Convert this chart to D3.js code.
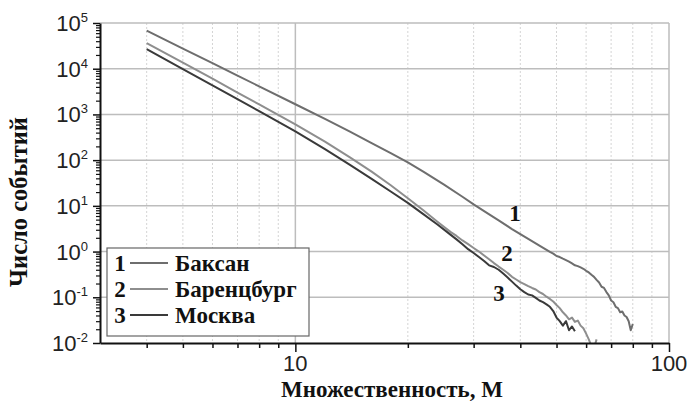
<!DOCTYPE html>
<html lang="ru">
<head>
<meta charset="UTF-8">
<title>Число событий</title>
<script src="https://d3js.org/d3.v7.min.js"></script>
<style>
  body { margin: 0; background: #fff; }
  svg { display: block; }
  .tick-label { font-family: "Liberation Sans", Arial, sans-serif; fill: #222; }
  .serif-b { font-family: "Liberation Serif", "Times New Roman", serif; font-weight: bold; fill: #111; }
</style>
</head>
<body>
<svg id="chart" width="688" height="403"></svg>
<script>
// multiplicity M and number of events
const baksanM = [4, 5, 6, 7, 8, 10, 12, 14, 16, 18, 20, 22, 25, 28, 30, 32, 35, 38, 40, 42, 45, 48,
  49, 50, 51, 52, 53, 54, 55, 56, 57, 58, 59, 60, 61, 62, 63, 64, 65, 66, 67, 68, 69, 70,
  71, 72, 73, 74, 75, 76, 77, 78, 79, 80];
const baksanN = [68000, 27600, 13200, 7080, 4120, 1670, 798, 421, 235, 142, 89, 56, 29, 15.8, 10.8, 7.7, 4.8, 3.1, 2.4, 1.9, 1.35, 0.98,
  0.9, 0.8, 0.76, 0.7, 0.65, 0.6, 0.55, 0.5, 0.48, 0.45, 0.42, 0.38, 0.35, 0.31, 0.28, 0.24, 0.21, 0.17, 0.16, 0.13, 0.11, 0.085,
  0.078, 0.062, 0.058, 0.047, 0.049, 0.04, 0.037, 0.03, 0.019, 0.026];

const barentsM = [4, 5, 6, 7, 8, 10, 12, 14, 16, 18, 20, 22, 24, 26, 27, 28, 29, 30, 31, 32, 33, 34, 35,
  36, 37, 38, 39, 40, 41, 42, 43, 44, 45, 46, 47, 48, 49, 50, 51, 52, 53, 54, 55, 56, 57, 58,
  59, 60, 61, 62, 63, 64];
const barentsN = [36300, 13600, 6100, 3010, 1660, 605, 253, 115, 56, 28.3, 14.7, 8.0, 4.5, 2.7, 2.2, 1.75, 1.45, 1.2, 1.0, 0.82, 0.68, 0.56, 0.47,
  0.4, 0.34, 0.28, 0.245, 0.215, 0.195, 0.175, 0.16, 0.148, 0.13, 0.118, 0.103, 0.092, 0.081, 0.068, 0.058, 0.047, 0.04, 0.033, 0.036, 0.029, 0.031, 0.024,
  0.021, 0.016, 0.012, 0.0085, 0.0078, 0.012];

const moscowM = [4, 5, 6, 7, 8, 10, 12, 14, 16, 18, 20, 22, 24, 26, 27, 28, 29, 30, 31, 32, 33, 34, 35,
  36, 37, 38, 39, 40, 41, 42, 43, 44, 45, 46, 47, 48, 49, 50, 51, 52, 53, 54, 55, 56];
const moscowN = [26700, 9800, 4320, 2160, 1180, 424, 174, 79, 39, 20.6, 11.6, 6.6, 3.9, 2.35, 1.85, 1.45, 1.13, 0.93, 0.76, 0.62, 0.5, 0.46, 0.4,
  0.33, 0.27, 0.22, 0.18, 0.15, 0.13, 0.115, 0.11, 0.097, 0.085, 0.078, 0.07, 0.062, 0.05, 0.036, 0.03, 0.024, 0.03, 0.019, 0.023, 0.018];

const seriesNames = ["Баксан", "Баренцбург", "Москва"];
const seriesColors = ["#6e6e6e", "#8e8e8e", "#3a3a3a"];
const yMajor = [0.01, 0.1, 1, 10, 100, 1000, 10000, 100000];
const yExp = ["-2", "-1", "0", "1", "2", "3", "4", "5"];
const xLabels = [10, 100];

const svg = d3.select("#chart");
const plotLeft = 100, plotRight = 669, plotTop = 23, plotBottom = 343;

const x = d3.scaleLog().domain([3, 100]).range([plotLeft, plotRight]);
const y = d3.scaleLog().domain([0.01, 100000]).range([plotBottom, plotTop]);

// grid
const xMinor = x.ticks().filter(d => d > 3 && d < 100 && d !== 10);
svg.append("g").selectAll("line").data(xMinor).join("line")
  .attr("x1", d => x(d)).attr("x2", d => x(d))
  .attr("y1", plotTop).attr("y2", plotBottom)
  .attr("stroke", "#d4d4d4").attr("stroke-width", 1).attr("stroke-dasharray", "2,2");

svg.append("g").selectAll("line").data(yMajor.slice(1)).join("line")
  .attr("x1", plotLeft).attr("x2", plotRight)
  .attr("y1", d => y(d)).attr("y2", d => y(d))
  .attr("stroke", "#bdbdbd").attr("stroke-width", 1.5);

svg.append("g").selectAll("line").data([10, 100]).join("line")
  .attr("x1", d => x(d)).attr("x2", d => x(d))
  .attr("y1", plotTop).attr("y2", plotBottom)
  .attr("stroke", "#bdbdbd").attr("stroke-width", 1.5);

// curves
svg.append("clipPath").attr("id", "plot-clip")
  .append("rect").attr("x", plotLeft).attr("y", plotTop)
  .attr("width", plotRight - plotLeft).attr("height", plotBottom - plotTop);

const line = d3.line().x(d => x(d[0])).y(d => y(d[1]));
const series = [
  d3.zip(baksanM, baksanN),
  d3.zip(barentsM, barentsN),
  d3.zip(moscowM, moscowN)
];
svg.append("g").attr("clip-path", "url(#plot-clip)")
  .selectAll("path").data(series).join("path")
  .attr("d", line)
  .attr("fill", "none")
  .attr("stroke", (d, i) => seriesColors[i])
  .attr("stroke-width", 2)
  .attr("stroke-linejoin", "round");

// axes
const yMinor = y.ticks().filter(d => !yMajor.includes(d));
svg.append("g").attr("transform", `translate(${plotLeft},0)`)
  .call(d3.axisLeft(y).tickValues(yMinor).tickSize(4).tickFormat("").tickSizeOuter(0))
  .call(g => g.select(".domain").remove())
  .call(g => g.selectAll("line").attr("stroke", "#111").attr("stroke-width", 1.2));
svg.append("g").attr("transform", `translate(${plotLeft},0)`)
  .call(d3.axisLeft(y).tickValues(yMajor).tickSize(7).tickFormat("").tickSizeOuter(0))
  .call(g => g.select(".domain").attr("stroke", "#111").attr("stroke-width", 2))
  .call(g => g.selectAll("line").attr("stroke", "#111").attr("stroke-width", 1.5));

svg.append("g").attr("transform", `translate(0,${plotBottom})`)
  .call(d3.axisBottom(x).tickValues(xMinor).tickSize(5).tickFormat("").tickSizeOuter(0))
  .call(g => g.select(".domain").remove())
  .call(g => g.selectAll("line").attr("stroke", "#111").attr("stroke-width", 1.5));
svg.append("g").attr("transform", `translate(0,${plotBottom})`)
  .call(d3.axisBottom(x).tickValues(xLabels).tickSize(9).tickFormat("").tickSizeOuter(0))
  .call(g => g.select(".domain").attr("stroke", "#111").attr("stroke-width", 2))
  .call(g => g.selectAll("line").attr("stroke", "#111").attr("stroke-width", 1.5));

// y tick labels: 10 with superscript
const yl = svg.append("g").selectAll("text").data(yMajor).join("text")
  .attr("class", "tick-label")
  .attr("x", 88).attr("y", d => y(d) + 8)
  .attr("text-anchor", "end")
  .style("font-size", "22px");
yl.append("tspan").text("10");
yl.append("tspan").attr("dy", -9).style("font-size", "13px").text((d, i) => yExp[i]);

svg.append("g").selectAll("text").data(xLabels).join("text")
  .attr("class", "tick-label")
  .attr("x", d => x(d)).attr("y", 371)
  .attr("text-anchor", "middle")
  .style("font-size", "22px")
  .text(d => d);

// axis titles
svg.append("text").attr("class", "serif-b")
  .attr("x", 392).attr("y", 397)
  .attr("text-anchor", "middle")
  .style("font-size", "23px")
  .text("Множественность, М");
svg.append("text").attr("class", "serif-b")
  .attr("transform", "translate(27,202) rotate(-90)")
  .attr("text-anchor", "middle")
  .style("font-size", "24.5px")
  .text("Число событий");

// curve numbers
const curveLabels = [[515, 213], [507, 253], [499, 293]];
svg.append("g").selectAll("text").data(curveLabels).join("text")
  .attr("class", "serif-b")
  .attr("x", d => d[0]).attr("y", d => d[1] + 8)
  .attr("text-anchor", "middle")
  .style("font-size", "23px")
  .text((d, i) => i + 1);

// legend
const legend = svg.append("g").attr("transform", "translate(107,248)");
legend.append("rect").attr("width", 202).attr("height", 88)
  .attr("fill", "#fff").attr("stroke", "#666").attr("stroke-width", 1.2);
const rows = legend.selectAll("g").data(seriesNames).join("g")
  .attr("transform", (d, i) => `translate(0,${15 + i * 26})`);
rows.append("text").attr("class", "serif-b")
  .attr("x", 13).attr("y", 8).attr("text-anchor", "middle")
  .style("font-size", "23px").text((d, i) => i + 1);
rows.append("line").attr("x1", 23).attr("x2", 61).attr("y1", 0).attr("y2", 0)
  .attr("stroke", (d, i) => seriesColors[i]).attr("stroke-width", 2);
rows.append("text").attr("class", "serif-b")
  .attr("x", 68).attr("y", 8)
  .style("font-size", "23px").text(d => d);
</script>
</body>
</html>
